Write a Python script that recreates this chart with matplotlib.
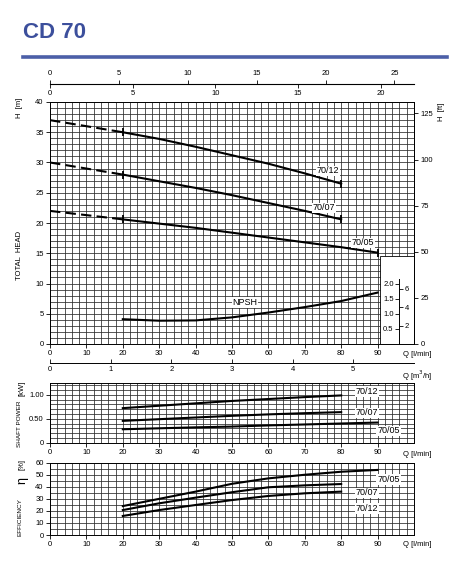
import numpy as np
import matplotlib
matplotlib.use("Agg")
import matplotlib.pyplot as plt
from matplotlib import font_manager
from matplotlib.lines import Line2D
from matplotlib.patches import Rectangle

names = {f.name for f in font_manager.fontManager.ttflist}
narrow = "Liberation Sans Narrow" if "Liberation Sans Narrow" in names else "Liberation Sans"
plt.rcParams["font.family"] = [narrow, "DejaVu Sans"]

# --- data ---
q_head = [0, 10, 20, 30, 40, 50, 60, 70, 80]
h_7012 = [37.0, 36.0, 35.0, 33.9, 32.6, 31.2, 29.8, 28.2, 26.5]
h_7007 = [30.0, 29.0, 28.0, 26.9, 25.8, 24.6, 23.3, 22.0, 20.6]
q_head5 = [0, 10, 20, 30, 40, 50, 60, 70, 80, 90]
h_7005 = [22.0, 21.3, 20.6, 19.9, 19.2, 18.4, 17.6, 16.8, 16.0, 15.1]

q_npsh = [20, 30, 40, 50, 60, 70, 80, 90]
npsh = [0.82, 0.77, 0.78, 0.88, 1.04, 1.22, 1.42, 1.70]   # m, drawn at 5x on the head scale

q_p = [20, 30, 40, 50, 60, 70, 80]
q_p5 = [20, 30, 40, 50, 60, 70, 80, 90]
p_7012 = [0.72, 0.77, 0.82, 0.87, 0.91, 0.95, 0.985]
p_7007 = [0.455, 0.49, 0.525, 0.56, 0.59, 0.615, 0.637]
p_7005 = [0.28, 0.30, 0.32, 0.336, 0.36, 0.38, 0.40, 0.42]

e_7005 = [24.0, 30.0, 36.0, 42.5, 47.0, 50.0, 52.5, 54.0]
e_7007 = [20.7, 26.3, 31.0, 35.5, 39.6, 41.2, 42.3]
e_7012 = [15.8, 20.7, 24.9, 29.0, 32.4, 34.6, 36.0]

W, H = 452, 584
fig = plt.figure(figsize=(W / 100, H / 100), dpi=100)


def box(x0, y0, x1, y1):
    return [x0 / W, 1 - y1 / H, (x1 - x0) / W, (y1 - y0) / H]


FS = 5.5
GRID = dict(color="#2a2a2a", lw=0.55)


def setup(ax, ymax, ystep, yticks, ylabels):
    ax.set_xlim(0, 100)
    ax.set_ylim(0, ymax)
    ax.set_xticks(range(0, 100, 10))
    ax.set_xticks(np.arange(0, 101, 2), minor=True)
    ax.set_yticks(yticks)
    ax.set_yticklabels(ylabels)
    ax.set_yticks(np.arange(0, ymax + 1e-9, ystep), minor=True)
    ax.grid(which="both", **GRID)
    ax.set_axisbelow(True)
    ax.tick_params(which="major", labelsize=FS, length=3, width=0.6, pad=1.5)
    ax.tick_params(which="minor", length=0)
    for s in ax.spines.values():
        s.set_linewidth(0.7)


# title
fig.text(23 / W, 1 - 33 / H, "CD 70", color="#3c4f9c", fontsize=16,
         fontweight="bold", family="Liberation Sans", va="center")
fig.add_artist(Line2D([23 / W, 447 / W], [1 - 57 / H] * 2, color="#4c5fa8", lw=2.6))

# --- head chart ---
ax = fig.add_axes(box(50, 102, 414, 344))
setup(ax, 40, 1, range(0, 41, 5), [str(v) for v in range(0, 41, 5)])

for q, h in [(q_head, h_7012), (q_head, h_7007), (q_head5, h_7005)]:
    q = np.array(q)
    h = np.array(h)
    d = q <= 20
    s = q >= 20
    ax.plot(q[d], h[d], color="black", lw=1.5, ls=(0, (5, 2.5)), zorder=3)
    ax.plot(q[s], h[s], color="black", lw=1.5, zorder=3)
    ax.plot([q[s][0], q[s][-1]], [h[s][0], h[s][-1]], ls="none", marker="|",
            ms=6, mew=1.3, color="black", zorder=3)

ax.plot(q_npsh, np.array(npsh) * 5, color="black", lw=1.5, zorder=3)

lab = dict(fontsize=6.5, ha="center", va="center", zorder=4,
           bbox=dict(fc="white", ec="none", pad=0.6))
ax.text(76.4, 28.6, "70/12", **lab)
ax.text(75.3, 22.5, "70/07", **lab)
ax.text(86.0, 16.7, "70/05", **lab)
ax.text(53.6, 6.9, "NPSH", **lab)

ax.add_patch(Rectangle((90.6, 0), 9.4, 14.5, fc="white", ec="black", lw=0.6, zorder=2))

ft = ax.secondary_yaxis("right", functions=(lambda m: m / 0.3048, lambda f: f * 0.3048))
ft.set_yticks(range(0, 126, 25))
ft.tick_params(labelsize=FS, length=3, width=0.6, pad=1.5)
ft.spines["right"].set_linewidth(0.7)

m3h = ax.secondary_xaxis((344 - 363) / 242, functions=(lambda q: q * 0.06, lambda v: v / 0.06))
m3h.set_xticks(range(0, 6))
m3h.tick_params(direction="in", labelsize=FS, length=3, width=0.6, pad=2)
m3h.spines["bottom"].set_linewidth(0.7)

top_loc = 1 + (102 - 84) / 242
us = ax.secondary_xaxis(top_loc, functions=(lambda q: q / 3.78541, lambda g: g * 3.78541))
us.set_xticks(range(0, 26, 5))
us.tick_params(labelsize=FS, length=3, width=0.6, pad=2)
us.spines["top"].set_linewidth(0.7)
imp = ax.secondary_xaxis(top_loc, functions=(lambda q: q / 4.54609, lambda g: g * 4.54609))
imp.set_alignment("bottom")
imp.set_xticks(range(0, 21, 5))
imp.tick_params(labelsize=FS, length=3, width=0.6, pad=1.5)

# NPSH scale inside the white box
ins = fig.add_axes(box(399.3, 279, 399.31, 344))
ins.set_ylim(0, 65 / 6.05 / 5)
ins.set_xticks([])
for k in ["top", "bottom", "right"]:
    ins.spines[k].set_visible(False)
ins.spines["left"].set_linewidth(0.7)
ins.set_yticks([0.5, 1.0, 1.5, 2.0])
ins.set_yticklabels(["0.5", "1.0", "1.5", "2.0"])
ins.tick_params(labelsize=FS, length=3, width=0.6, pad=1)
ins_ft = ins.secondary_yaxis("right", functions=(lambda m: m / 0.3048, lambda f: f * 0.3048))
ins_ft.set_yticks([2, 4, 6])
ins_ft.spines["right"].set_visible(False)
ins_ft.tick_params(labelsize=FS, length=3, width=0.6, pad=1)

# --- shaft power ---
axp = fig.add_axes(box(50, 382.7, 414, 442.7))
setup(axp, 1.25, 0.1, [0, 0.5, 1.0], ["0", "0.50", "1.00"])
axp.plot(q_p, p_7012, color="black", lw=1.5)
axp.plot(q_p, p_7007, color="black", lw=1.5)
axp.plot(q_p5, p_7005, color="black", lw=1.5)
axp.text(87.0, 1.07, "70/12", **lab)
axp.text(87.0, 0.62, "70/07", **lab)
axp.text(93.0, 0.245, "70/05", **lab)

# --- efficiency ---
axe = fig.add_axes(box(50, 462.7, 414, 535))
setup(axe, 60, 5, range(0, 61, 10), [str(v) for v in range(0, 61, 10)])
axe.plot(q_p5, e_7005, color="black", lw=1.5)
axe.plot(q_p, e_7007, color="black", lw=1.5)
axe.plot(q_p, e_7012, color="black", lw=1.5)
axe.text(93.0, 46.0, "70/05", **lab)
axe.text(87.0, 35.0, "70/07", **lab)
axe.text(87.0, 22.0, "70/12", **lab)

# --- labels ---
t = dict(fontsize=FS, ha="center", va="center")
r = dict(fontsize=FS, ha="center", va="center", rotation=90)
rs = dict(fontsize=4.6, ha="center", va="center", rotation=90)
fig.text(20 / W, 1 - 108 / H, "H  [m]", **r)
fig.text(20 / W, 1 - 255 / H, "TOTAL  HEAD", **r)
fig.text(442 / W, 1 - 112 / H, "H  [ft]", **r)
fig.text(20 / W, 1 - 424 / H, "SHAFT POWER", **rs)
fig.text(22 / W, 1 - 388 / H, "[kW]", **r)
fig.text(20 / W, 1 - 517 / H, "EFFICIENCY", **rs)
fig.text(22 / W, 1 - 480 / H, "η", fontsize=9, ha="center", va="center", rotation=90)
fig.text(22 / W, 1 - 465 / H, "[%]", **r)
fig.text(417 / W, 1 - 354 / H, "Q [l/min]", **t)
fig.text(417 / W, 1 - 376 / H, "Q [m$^3$/h]", **t)
fig.text(417 / W, 1 - 455 / H, "Q [l/min]", **t)
fig.text(417 / W, 1 - 544 / H, "Q [l/min]", **t)

fig.savefig("out.png", dpi=100)
